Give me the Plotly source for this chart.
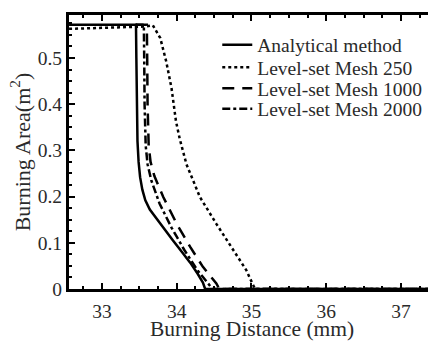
import plotly.graph_objects as go

# Data
analytical_x = [32.56, 33.455, 33.46, 33.465, 33.475, 33.49, 33.51, 33.54, 33.58, 33.64, 33.73, 33.84, 33.95, 34.07, 34.18, 34.28, 34.35, 34.38, 34.5, 37.4]
analytical_y = [0.572, 0.572, 0.50, 0.40, 0.32, 0.275, 0.242, 0.215, 0.192, 0.172, 0.152, 0.128, 0.105, 0.08, 0.057, 0.033, 0.014, 0.0, 0.0, 0.0]

mesh250_x = [32.56, 33.57, 33.68, 33.78, 33.86, 33.93, 33.99, 34.04, 34.13, 34.31, 34.53, 34.76, 34.93, 35.02, 35.05, 37.4]
mesh250_y = [0.563, 0.568, 0.571, 0.543, 0.492, 0.435, 0.363, 0.325, 0.270, 0.199, 0.141, 0.084, 0.041, 0.009, 0.0, 0.0]

mesh1000_x = [33.45, 33.6, 33.605, 33.61, 33.625, 33.65, 33.7, 33.82, 34.0, 34.18, 34.35, 34.53, 34.57, 37.4]
mesh1000_y = [0.572, 0.572, 0.50, 0.40, 0.31, 0.275, 0.245, 0.199, 0.141, 0.091, 0.048, 0.012, 0.0, 0.0]

mesh2000_x = [33.45, 33.56, 33.565, 33.57, 33.585, 33.61, 33.66, 33.77, 33.93, 34.1, 34.28, 34.45, 34.48, 37.4]
mesh2000_y = [0.572, 0.572, 0.50, 0.40, 0.31, 0.27, 0.235, 0.185, 0.133, 0.085, 0.04, 0.005, 0.0, 0.0]

names = ["Analytical method", "Level-set Mesh 250", "Level-set Mesh 1000", "Level-set Mesh 2000"]
x_title = "Burning Distance (mm)"
y_title = "Burning Area(m<sup>2</sup>)"

font_family = "'Liberation Serif', 'Times New Roman', Times, serif"
text_color = "#2a2a2a"

fig = go.Figure()
fig.add_trace(go.Scatter(x=analytical_x, y=analytical_y, mode="lines", name=names[0], legend="legend",
                         line=dict(color="black", width=2.5, dash="solid")))
fig.add_trace(go.Scatter(x=mesh250_x, y=mesh250_y, mode="lines", name=names[1], legend="legend2",
                         line=dict(color="black", width=2.5, dash="dot")))
fig.add_trace(go.Scatter(x=mesh1000_x, y=mesh1000_y, mode="lines", name=names[2], legend="legend3",
                         line=dict(color="black", width=2.5, dash="12px,8px")))
fig.add_trace(go.Scatter(x=mesh2000_x, y=mesh2000_y, mode="lines", name=names[3], legend="legend4",
                         line=dict(color="black", width=2.5, dash="8px,3px,3px,3px")))

def legend_box(yc):
    return dict(x=0.413, y=yc, xanchor="left", yanchor="middle",
                bgcolor="rgba(0,0,0,0)", font=dict(size=19.5, family=font_family, color=text_color),
                itemwidth=30)

fig.update_layout(
    width=428, height=342,
    margin=dict(l=69, r=0, t=15, b=53, autoexpand=False),
    paper_bgcolor="white", plot_bgcolor="white",
    font=dict(family=font_family, size=19, color=text_color),
    showlegend=True,
    legend=legend_box(0.8905),
    legend2=legend_box(0.8084),
    legend3=legend_box(0.7318),
    legend4=legend_box(0.6569),
    xaxis=dict(range=[32.559, 37.361], tickvals=[33, 34, 35, 36, 37],
               ticks="inside", ticklen=6, tickwidth=2, tickcolor="black",
               showline=True, linecolor="black", linewidth=3, mirror="ticks",
               showgrid=False, zeroline=False, ticklabelstandoff=3, automargin=False,
               minor=dict(dtick=0.25, ticks="inside", ticklen=3, tickwidth=1.5, tickcolor="black"),
               tickfont=dict(size=19.5, family=font_family)),
    yaxis=dict(range=[0, 0.593], tickvals=[0, 0.1, 0.2, 0.3, 0.4, 0.5],
               ticktext=["0", "0.1", "0.2", "0.3", "0.4", "0.5"],
               ticks="inside", ticklen=6, tickwidth=2, tickcolor="black",
               showline=True, linecolor="black", linewidth=3, mirror=False,
               showgrid=False, zeroline=False, automargin=False,
               minor=dict(dtick=0.025, ticks="inside", ticklen=3, tickwidth=1.5, tickcolor="black"),
               title=dict(text=y_title, font=dict(size=22, family=font_family), standoff=2),
               tickfont=dict(size=19.5, family=font_family)),
    annotations=[dict(text=x_title, xref="paper", yref="paper", x=0.511, y=-0.147,
                      xanchor="center", yanchor="middle", showarrow=False, borderpad=0,
                      font=dict(size=21.5, family=font_family, color=text_color))],
)

fig.write_html("out.html")
